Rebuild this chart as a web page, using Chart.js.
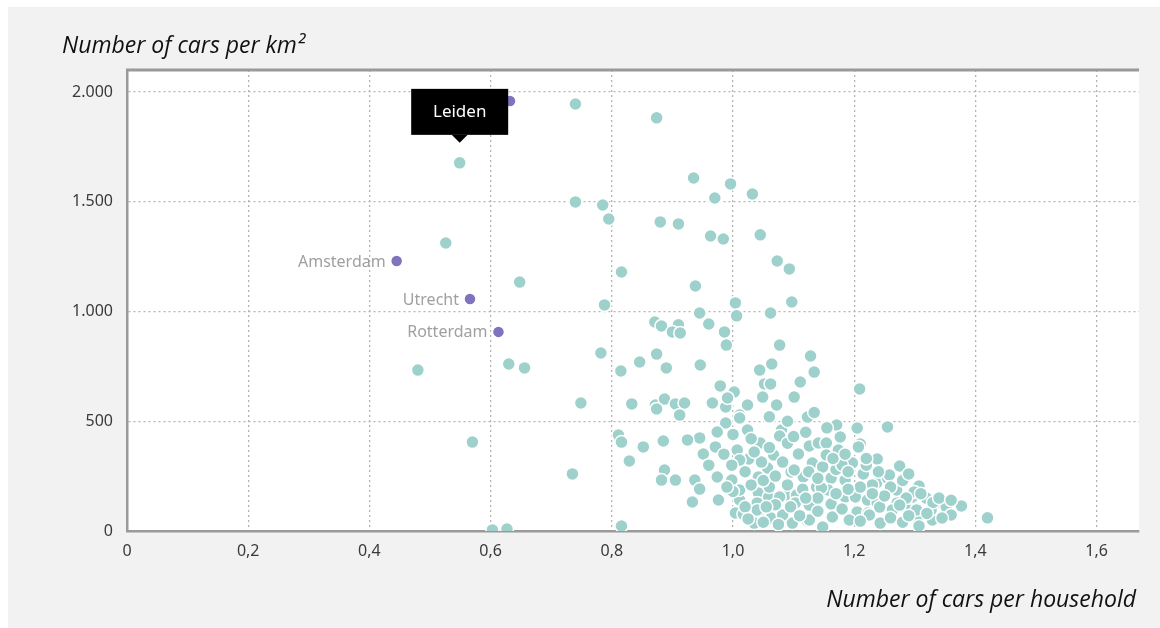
<!DOCTYPE html>
<html>
<head>
<meta charset="utf-8">
<script src="https://cdn.jsdelivr.net/npm/chart.js@4.4.1/dist/chart.umd.min.js"></script>
<style>
  html, body { margin: 0; padding: 0; background: #fff; }
  #wrap { width: 1160px; height: 628px; }
</style>
</head>
<body>
<div id="wrap"><canvas id="carsChart" width="1160" height="628"></canvas></div>
<script>
// cars per household (x) vs cars per km2 (y), one pair per municipality
const municipalities = [
    [0.740,1945],[0.874,1882],[0.935,1608],[0.996,1581],[1.032,1535],[0.970,1517],[0.740,1499],[0.785,1485],
    [0.795,1421],[0.880,1408],[0.910,1399],[0.963,1344],[0.984,1330],[1.045,1349],[0.526,1312],[0.648,1134],
    [1.073,1230],[1.093,1194],[0.816,1180],[0.938,1116],[1.097,1043],[1.004,1039],[0.788,1030],[0.945,993],
    [1.062,993],[1.006,980],[0.871,952],[0.882,934],[0.910,939],[0.900,907],[0.913,902],[0.960,943],
    [0.986,907],[0.989,847],[1.077,847],[0.782,811],[0.874,806],[1.128,797],[0.630,761],[0.656,743],
    [0.480,733],[0.815,729],[0.846,770],[0.890,743],[0.946,756],[1.044,733],[1.064,761],[1.134,724],
    [1.111,679],[1.209,647],[0.979,661],[1.002,633],[1.052,670],[1.062,670],[0.749,583],[0.833,579],
    [0.872,574],[0.887,601],[0.905,579],[0.920,583],[0.874,556],[0.912,528],[0.966,583],[0.988,565],
    [0.991,606],[1.024,574],[1.049,610],[1.072,574],[1.101,610],[0.570,405],[0.735,260],[0.603,5],
    [0.627,9],[0.816,23],[1.420,60],
    [1.011,528],[1.011,515],[1.123,519],[1.134,540],[0.988,492],[0.974,451],[1.024,460],[1.080,460],
    [1.171,483],[1.205,469],[1.255,474],[0.945,424],[0.971,383],[0.951,351],[1.045,401],[1.077,433],
    [1.126,387],[1.141,401],[1.154,401],[1.177,428],[1.210,396],[1.007,369],[1.026,328],[1.067,346],
    [1.108,351],[1.174,369],[1.207,383],[1.238,328],[1.275,296],[1.057,287],[1.096,269],[1.131,310],
    [1.148,292],[1.197,310],[0.974,246],[0.998,232],[1.042,246],[1.116,246],[1.162,241],[1.185,232],
    [1.215,260],[1.237,219],[1.255,241],[1.307,205],[0.937,232],[0.945,191],[0.933,132],[0.976,141],
    [1.011,141],[1.042,173],[1.059,155],[1.088,164],[1.105,164],[1.138,200],[1.157,187],[1.185,155],
    [1.202,155],[1.222,141],[1.238,128],[1.271,128],[1.296,155],[1.319,150],[1.040,128],[1.103,128],
    [1.162,123],[1.345,128],[1.377,114],[1.352,73],[1.004,82],[1.017,77],[1.042,87],[1.063,59],
    [1.098,36],[1.123,46],[1.164,64],[1.205,87],[1.223,82],[1.243,36],[1.304,59],[1.329,50],
    [1.035,36],[1.263,96],[1.288,96],
    [1.011,323],[1.047,314],[1.082,314],[1.011,187],[1.060,200],[1.077,155],[1.040,96],[1.082,73],
    [1.154,346],[1.101,278],[1.230,210],[1.146,196],[1.126,118],[1.242,109],[1.126,50],[1.192,50],
    [1.225,73],[1.148,18],
    [1.258,255],[1.270,187],[1.299,178],[1.286,150],[1.275,118],[1.352,109],[1.303,96],[1.327,96],
    [1.360,73],[1.345,59],[1.307,23],
    [0.811,437],[0.816,405],[0.852,383],[0.885,410],[0.829,319],[0.887,278],[0.882,232],[0.905,232],
    [0.925,415],
    [0.998,300],[1.020,270],[1.030,210],[1.050,230],[1.070,250],[1.090,210],[1.115,190],[1.125,270],
    [1.140,240],[1.170,280],[1.180,300],[1.190,270],[1.220,300],[1.240,270],[1.260,200],[1.280,230],
    [1.290,260],[1.310,170],[1.330,130],[1.340,150],[1.360,140],[1.250,160],[1.230,170],[1.210,200],
    [1.190,190],[1.170,170],[1.140,150],[1.120,150],[1.095,110],[1.070,120],[1.055,110],[1.020,110],
    [1.000,180],[0.990,200],[1.025,55],[1.050,40],[1.075,30],[1.110,70],[1.140,90],[1.180,100],
    [1.210,45],[1.260,60],[1.280,40],[1.290,70],[1.320,80],[1.000,440],[1.030,420],[1.060,380],
    [1.090,400],[1.100,430],[1.120,450],[1.165,330],[1.185,350],[1.220,330],[1.060,520],[1.090,500],
    [1.155,470],[0.960,300],[0.985,350],[1.035,360]
];

// the four big cities (purple); the top one has no label
const cityNames = ['Amsterdam', 'Utrecht', 'Rotterdam', ''];
const cityX = [0.445, 0.566, 0.613, 0.632];
const cityY = [1230, 1057, 907, 1959];

// Leiden, shown with the black tooltip
const leidenName = 'Leiden';
const leidenPoint = [0.549, 1677];

const xTickValues = [0, 0.2, 0.4, 0.6, 0.8, 1.0, 1.2, 1.4, 1.6];
const yTickValues = [0, 500, 1000, 1500, 2000];

const yTitle = 'Number of cars per km²';
const xTitle = 'Number of cars per household';

const teal = '#9ed1cc';
const purple = '#7f73bf';

const background = {
    id: 'background',
    beforeDraw: function (chart) {
        const { ctx, chartArea } = chart;
        ctx.save();
        ctx.fillStyle = '#ffffff';
        ctx.fillRect(0, 0, chart.width, chart.height);
        ctx.fillStyle = '#f2f2f2';
        ctx.fillRect(8, 7, chart.width - 8, chart.height - 7);
        ctx.fillStyle = '#ffffff';
        ctx.fillRect(chartArea.left, chartArea.top, chartArea.right - chartArea.left, chartArea.bottom - chartArea.top);
        ctx.restore();
    },
    beforeDatasetsDraw: function (chart) {
        const { ctx, chartArea } = chart;
        ctx.save();
        ctx.strokeStyle = '#9a9a9a';
        ctx.lineWidth = 3;
        ctx.beginPath();
        ctx.moveTo(chartArea.left - 1, chartArea.top);
        ctx.lineTo(chartArea.right, chartArea.top);
        ctx.stroke();

        ctx.fillStyle = '#111';
        ctx.font = "italic 23px 'Open Sans', sans-serif";
        ctx.textBaseline = 'alphabetic';
        ctx.textAlign = 'left';
        ctx.fillText(yTitle, 62, 53);
        ctx.textAlign = 'right';
        ctx.fillText(xTitle, chartArea.right - 3, 607);
        ctx.restore();
    }
};

const cityLabels = {
    id: 'cityLabels',
    afterDatasetsDraw: function (chart) {
        const { ctx, scales } = chart;
        ctx.save();
        ctx.font = "16px 'Noto Sans', sans-serif";
        ctx.fillStyle = '#a0a0a0';
        ctx.textAlign = 'right';
        ctx.textBaseline = 'middle';
        for (let i = 0; i < cityNames.length; i++) {
            if (!cityNames[i]) continue;
            const px = scales.x.getPixelForValue(cityX[i]);
            const py = scales.y.getPixelForValue(cityY[i]);
            ctx.fillText(cityNames[i], px - 11, py + 1);
        }

        // black tooltip above Leiden
        const lx = scales.x.getPixelForValue(leidenPoint[0]);
        const ly = scales.y.getPixelForValue(leidenPoint[1]);
        const w = 97, h = 46;
        const bottom = ly - 28;
        ctx.fillStyle = '#000';
        ctx.fillRect(lx - w / 2, bottom - h, w, h);
        ctx.beginPath();
        ctx.moveTo(lx - 8, bottom);
        ctx.lineTo(lx, bottom + 8);
        ctx.lineTo(lx + 8, bottom);
        ctx.closePath();
        ctx.fill();
        ctx.fillStyle = '#fff';
        ctx.textAlign = 'center';
        ctx.font = "17px 'Noto Sans', sans-serif";
        ctx.fillText(leidenName, lx, bottom - h / 2);
        ctx.restore();
    }
};

const ctx = document.getElementById('carsChart').getContext('2d');
const chart = new Chart(ctx, {
    type: 'scatter',
    data: {
        datasets: [
            {
                label: 'Big cities',
                data: cityX.map((x, i) => ({ x: x, y: cityY[i] })),
                backgroundColor: purple,
                borderColor: '#ffffff',
                borderWidth: 1.5,
                pointRadius: 6,
                order: 0
            },
            {
                label: 'Municipalities',
                data: municipalities.map(p => ({ x: p[0], y: p[1] }))
                    .concat([{ x: leidenPoint[0], y: leidenPoint[1] }]),
                backgroundColor: teal,
                borderColor: '#ffffff',
                borderWidth: 1.5,
                pointRadius: 6.5,
                order: 1
            }
        ]
    },
    options: {
        responsive: false,
        animation: false,
        events: [],
        layout: {
            padding: { left: 0, top: 70, right: 21, bottom: 57 }
        },
        plugins: {
            legend: { display: false },
            tooltip: { enabled: false }
        },
        scales: {
            x: {
                type: 'linear',
                min: 0,
                max: 1.67,
                afterBuildTicks: function (scale) {
                    scale.ticks = xTickValues.map(v => ({ value: v }));
                },
                afterFit: function (scale) {
                    scale.height = 40;
                },
                grid: {
                    color: '#b4b4b4',
                    lineWidth: 1.3,
                    drawTicks: false,
                    borderDash: [2, 3]
                },
                border: {
                    display: true,
                    color: '#9a9a9a',
                    width: 2.5,
                    dash: [2, 3]
                },
                ticks: {
                    padding: 11,
                    color: '#3a3a3a',
                    font: { family: "'Noto Sans', sans-serif", size: 16 },
                    callback: function (value) {
                        return value.toFixed(1).replace('.', ',').replace(/^0,0$/, '0');
                    }
                }
            },
            y: {
                type: 'linear',
                min: 0,
                max: 2100,
                afterBuildTicks: function (scale) {
                    scale.ticks = yTickValues.map(v => ({ value: v }));
                },
                afterFit: function (scale) {
                    scale.width = 127;
                },
                grid: {
                    color: '#b4b4b4',
                    lineWidth: 1.3,
                    drawTicks: false,
                    borderDash: [2, 3]
                },
                border: {
                    display: true,
                    color: '#9a9a9a',
                    width: 2.5,
                    dash: [2, 3]
                },
                ticks: {
                    padding: 14,
                    color: '#3a3a3a',
                    font: { family: "'Noto Sans', sans-serif", size: 16 },
                    callback: function (value) {
                        return value.toLocaleString('de-DE');
                    }
                }
            }
        }
    },
    plugins: [background, cityLabels]
});
</script>
</body>
</html>
